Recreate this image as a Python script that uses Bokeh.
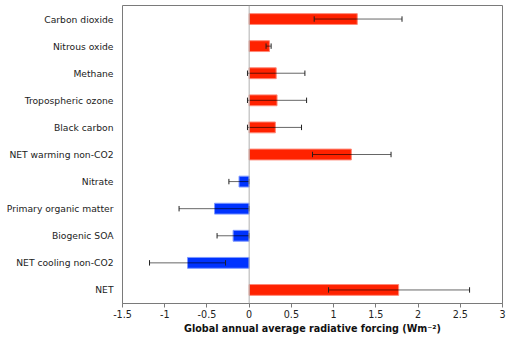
from bokeh.plotting import figure
from bokeh.models import ColumnDataSource, FixedTicker, Span, Range1d
from bokeh.embed import file_html
from bokeh.resources import INLINE

categories = ["Carbon dioxide", "Nitrous oxide", "Methane", "Tropospheric ozone",
              "Black carbon", "NET warming non-CO2", "Nitrate",
              "Primary organic matter", "Biogenic SOA", "NET cooling non-CO2", "NET"]
forcing = [1.28, 0.24, 0.32, 0.33, 0.31, 1.21, -0.12, -0.41, -0.19, -0.73, 1.77]
err_low = [0.77, 0.20, -0.02, -0.02, -0.02, 0.75, -0.24, -0.83, -0.38, -1.18, 0.94]
err_high = [1.81, 0.26, 0.66, 0.68, 0.62, 1.68, 0.0, 0.0, 0.0, -0.28, 2.61]
x_ticks = [-1.5, -1, -0.5, 0, 0.5, 1, 1.5, 2, 2.5, 3]
x_tick_labels = ["-1.5", "-1", "-0.5", "0", "0.5", "1", "1.5", "2", "2.5", "3"]
x_title = "Global annual average radiative forcing (Wm\u207b\u00b2)"

RED = "#ff2200"
BLUE = "#0033ff"
FONT = "DejaVu Sans"

ypos = list(range(len(categories)))
colors = [RED if v >= 0 else BLUE for v in forcing]
edges = ["#ff8877" if v >= 0 else "#7f99ff" for v in forcing]
src = ColumnDataSource(dict(y=ypos, v=forcing, lo=err_low, hi=err_high,
                            c=colors, e=edges,
                            ylo=[y - 0.1 for y in ypos], yhi=[y + 0.1 for y in ypos]))

p = figure(width=516, height=340, output_backend="svg", toolbar_location=None,
           x_range=Range1d(-1.5, 3), y_range=Range1d(len(categories) - 0.5, -0.5),
           min_border_left=122, min_border_right=14, min_border_top=5, min_border_bottom=37)
p.background_fill_color = "white"
p.border_fill_color = "white"
p.outline_line_color = "#7a7a7a"
p.outline_line_width = 1
p.xgrid.visible = False
p.ygrid.visible = False

p.add_layout(Span(location=0, dimension="height", line_color="#b0b0b0", line_width=1))

p.hbar(y="y", left=0, right="v", height=0.4, fill_color="c", line_color="e",
       line_width=1, source=src)
p.segment(x0="lo", x1="hi", y0="y", y1="y", line_color="black", line_alpha=0.6,
          line_width=1, source=src)
p.segment(x0="lo", x1="lo", y0="ylo", y1="yhi", line_color="#222222", line_width=1, source=src)
p.segment(x0="hi", x1="hi", y0="ylo", y1="yhi", line_color="#222222", line_width=1, source=src)

xa = p.xaxis[0]
xa.ticker = FixedTicker(ticks=x_ticks)
xa.major_label_overrides = {t: l for t, l in zip(x_ticks, x_tick_labels)}
xa.axis_label = x_title
xa.axis_label_text_font = FONT
xa.axis_label_text_font_style = "bold"
xa.axis_label_text_font_size = "9.6px"
xa.axis_label_text_color = "#111111"
xa.axis_label_standoff = 2
xa.major_label_text_font = FONT
xa.major_label_text_font_size = "9.6px"
xa.major_label_text_color = "#222222"
xa.major_label_standoff = 2
xa.axis_line_color = "#7a7a7a"
xa.major_tick_line_color = "#7a7a7a"
xa.major_tick_out = 4
xa.major_tick_in = 0
xa.minor_tick_line_color = None

ya = p.yaxis[0]
ya.ticker = FixedTicker(ticks=ypos)
ya.major_label_overrides = {i: c for i, c in zip(ypos, categories)}
ya.major_label_text_font = FONT
ya.major_label_text_font_size = "9.2px"
ya.major_label_text_color = "#222222"
ya.major_label_standoff = 9
ya.axis_line_color = None
ya.major_tick_line_color = None
ya.major_tick_out = 0
ya.major_tick_in = 0
ya.minor_tick_line_color = None
ya.minor_tick_out = 0
ya.minor_tick_in = 0

open("out.html", "w").write(file_html(p, INLINE))
